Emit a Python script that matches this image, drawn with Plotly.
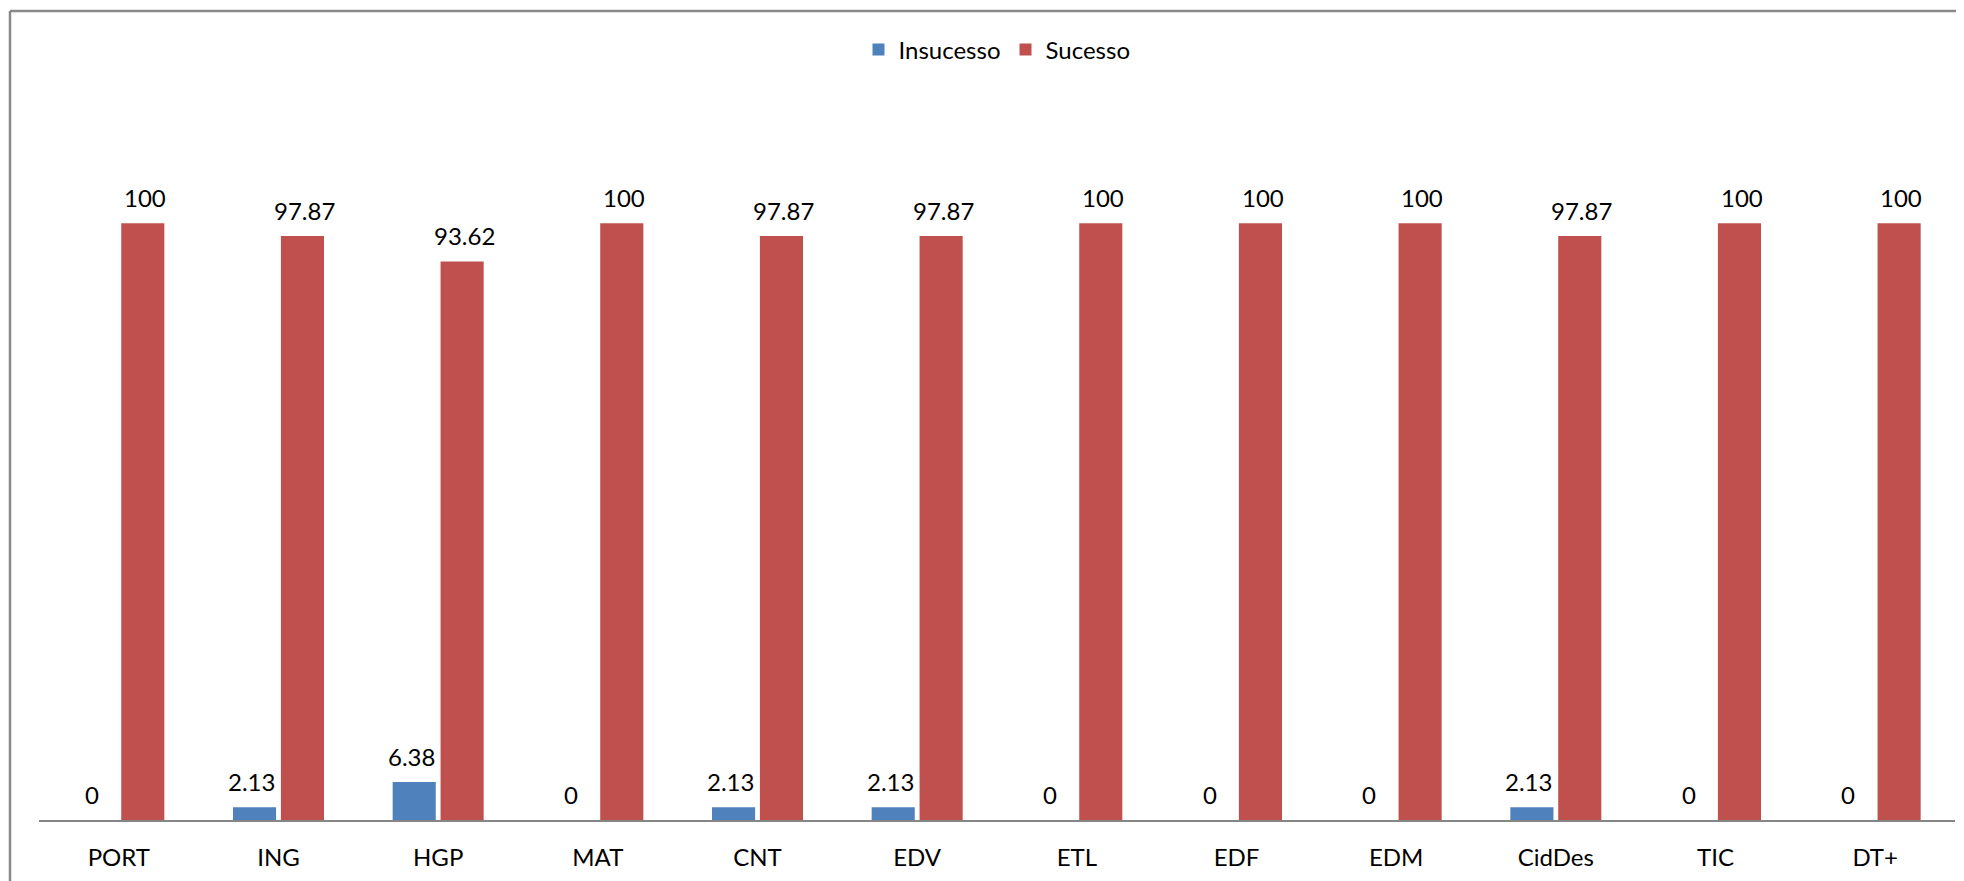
import plotly.graph_objects as go

categorias = ["PORT", "ING", "HGP", "MAT", "CNT", "EDV", "ETL", "EDF", "EDM", "CidDes", "TIC", "DT+"]
insucesso = [0, 2.13, 6.38, 0, 2.13, 2.13, 0, 0, 0, 2.13, 0, 0]
sucesso = [100, 97.87, 93.62, 100, 97.87, 97.87, 100, 100, 100, 97.87, 100, 100]

# a página tem 8px de margem no body, por isso a figura começa em (8, 8)
W, H = 1956, 873
ml, mr, mt, mb = 31, 9, 96, 61
fonte = dict(family="Lato, 'Open Sans', sans-serif", size=24, color="#000000")

fig = go.Figure()
fig.add_trace(go.Bar(x=categorias, y=insucesso, name="Insucesso",
                     marker=dict(color="#4F81BD", line=dict(width=0))))
fig.add_trace(go.Bar(x=categorias, y=sucesso, name="Sucesso",
                     marker=dict(color="#C0504D", line=dict(width=0))))

# rótulos de dados por cima das barras
for valores, desvio in ((insucesso, -27), (sucesso, 26)):
    for cat, v in zip(categorias, valores):
        fig.add_annotation(x=cat, y=v, text=f"{v:g}", showarrow=False,
                           xanchor="center", yanchor="bottom", xshift=desvio, yshift=9,
                           font=fonte)

# moldura cinzenta (lado de cima e esquerdo)
pw, ph = W - ml - mr, H - mt - mb
x0 = (2 - ml) / pw
y_top = (H - mb - 3) / ph
fig.add_shape(type="line", xref="paper", yref="paper", x0=x0, x1=(W - ml + 5) / pw,
              y0=y_top, y1=y_top, line=dict(color="#898989", width=2.5))
fig.add_shape(type="line", xref="paper", yref="paper", x0=x0, x1=x0,
              y0=y_top, y1=-(mb + 5) / ph, line=dict(color="#898989", width=2.5))

fig.update_layout(
    width=W, height=H,
    margin=dict(l=ml, r=mr, t=mt, b=mb),
    paper_bgcolor="white", plot_bgcolor="white",
    barmode="group", bargap=0.4, bargroupgap=0.1,
    font=fonte,
    legend=dict(orientation="h", x=0.5, xanchor="center", y=1 + (mt - 42) / ph, yanchor="middle",
                font=fonte, itemwidth=30, traceorder="normal"),
    xaxis=dict(showline=True, linecolor="#868686", linewidth=2, ticks="",
               ticklabelstandoff=15, tickfont=fonte, showgrid=False, automargin=False),
    yaxis=dict(visible=False, range=[0, 120], showgrid=False, zeroline=False),
    showlegend=True,
)

fig.write_html("out.html")
